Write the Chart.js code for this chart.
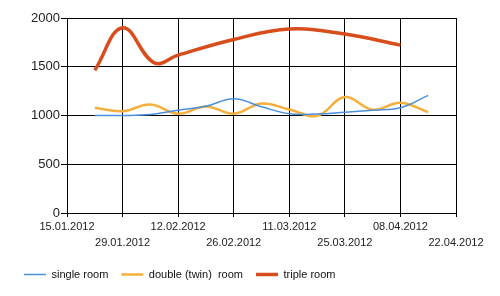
<!DOCTYPE html>
<html>
<head>
<meta charset="utf-8">
<script src="https://cdn.jsdelivr.net/npm/chart.js@4"></script>
<style>
  html, body { margin: 0; padding: 0; background: #fff; }
  #wrap { width: 500px; height: 296px; }
</style>
</head>
<body>
<div id="wrap"><canvas id="roomChart" width="500" height="296"></canvas></div>
<script>
// days counted from 15.01.2012 (x axis runs 15.01 - 22.04, ticks every 2 weeks)
const startDate = Date.UTC(2012, 0, 15);
const axisMaxDay = 98;
const tickStepDays = 14;

const singleDays = [7, 14, 21, 28, 35, 42, 49, 56, 63, 70, 77, 84, 91];
const singleValues = [1000, 1000, 1010, 1055, 1095, 1172, 1090, 1018, 1015, 1034, 1055, 1079, 1206];

const doubleDays = [7, 14, 21, 28, 35, 42, 49, 56, 63, 70, 77, 84, 91];
const doubleValues = [1079, 1044, 1113, 1018, 1093, 1018, 1122, 1062, 996, 1189, 1059, 1131, 1034];

const tripleDays = [7, 14, 22, 28, 42, 56, 70, 84];
const tripleValues = [1464, 1900, 1540, 1619, 1780, 1887, 1835, 1722];

const seriesLabels = ['single room', 'double (twin)  room', 'triple room'];
const yTicks = [0, 500, 1000, 1500, 2000];

function toPoints(days, values) {
    return days.map((d, i) => ({x: d, y: values[i]}));
}

function formatDay(day) {
    const d = new Date(startDate + day * 86400000);
    const dd = String(d.getUTCDate()).padStart(2, '0');
    const mm = String(d.getUTCMonth() + 1).padStart(2, '0');
    return dd + '.' + mm + '.' + d.getUTCFullYear();
}

Chart.defaults.font.family = "'Liberation Sans', Arial, sans-serif";
Chart.defaults.color = '#222';

const ctx = document.getElementById('roomChart');

new Chart(ctx, {
    type: 'line',
    data: {
        datasets: [
            {
                label: seriesLabels[0],
                data: toPoints(singleDays, singleValues),
                borderColor: '#4a8fdc',
                borderWidth: 1.5,
                tension: 0.4,
                pointRadius: 0,
            },
            {
                label: seriesLabels[1],
                data: toPoints(doubleDays, doubleValues),
                borderColor: '#f5af3d',
                borderWidth: 2.5,
                tension: 0.4,
                pointRadius: 0,
            },
            {
                label: seriesLabels[2],
                data: toPoints(tripleDays, tripleValues),
                borderColor: '#d84d1c',
                borderWidth: 3.5,
                tension: 0.4,
                pointRadius: 0,
            },
        ]
    },
    options: {
        responsive: false,
        animation: false,
        layout: {
            padding: {left: 11, right: 44, top: 18, bottom: 6}
        },
        plugins: {
            tooltip: {enabled: false},
            legend: {
                position: 'bottom',
                align: 'start',
                labels: {
                    usePointStyle: true,
                    pointStyle: 'line',
                    pointStyleWidth: 22,
                    padding: 13,
                    color: '#111',
                    font: {size: 11},
                }
            }
        },
        scales: {
            x: {
                type: 'linear',
                min: 0,
                max: axisMaxDay,
                afterFit: scale => { scale.height = 43; },
                afterBuildTicks: scale => {
                    const ticks = [];
                    for (let d = 0; d <= axisMaxDay; d += tickStepDays) ticks.push({value: d});
                    scale.ticks = ticks;
                },
                grid: {color: '#000', lineWidth: 1, tickLength: 4},
                border: {color: '#000', width: 1},
                ticks: {
                    autoSkip: false,
                    maxRotation: 0,
                    padding: 2,
                    color: '#222',
                    font: {size: 11, lineHeight: 1.45},
                    callback: value => {
                        const idx = Math.round(value / tickStepDays);
                        return idx % 2 === 0 ? [formatDay(value)] : ['', formatDay(value)];
                    }
                }
            },
            y: {
                min: yTicks[0],
                max: yTicks[yTicks.length - 1],
                afterFit: scale => { scale.width = 56; },
                grid: {color: '#000', lineWidth: 1, tickLength: 6},
                border: {color: '#000', width: 1},
                ticks: {
                    stepSize: 500,
                    padding: 1,
                    color: '#222',
                    font: {size: 13},
                    callback: value => String(value)
                }
            }
        }
    }
});
</script>
</body>
</html>
